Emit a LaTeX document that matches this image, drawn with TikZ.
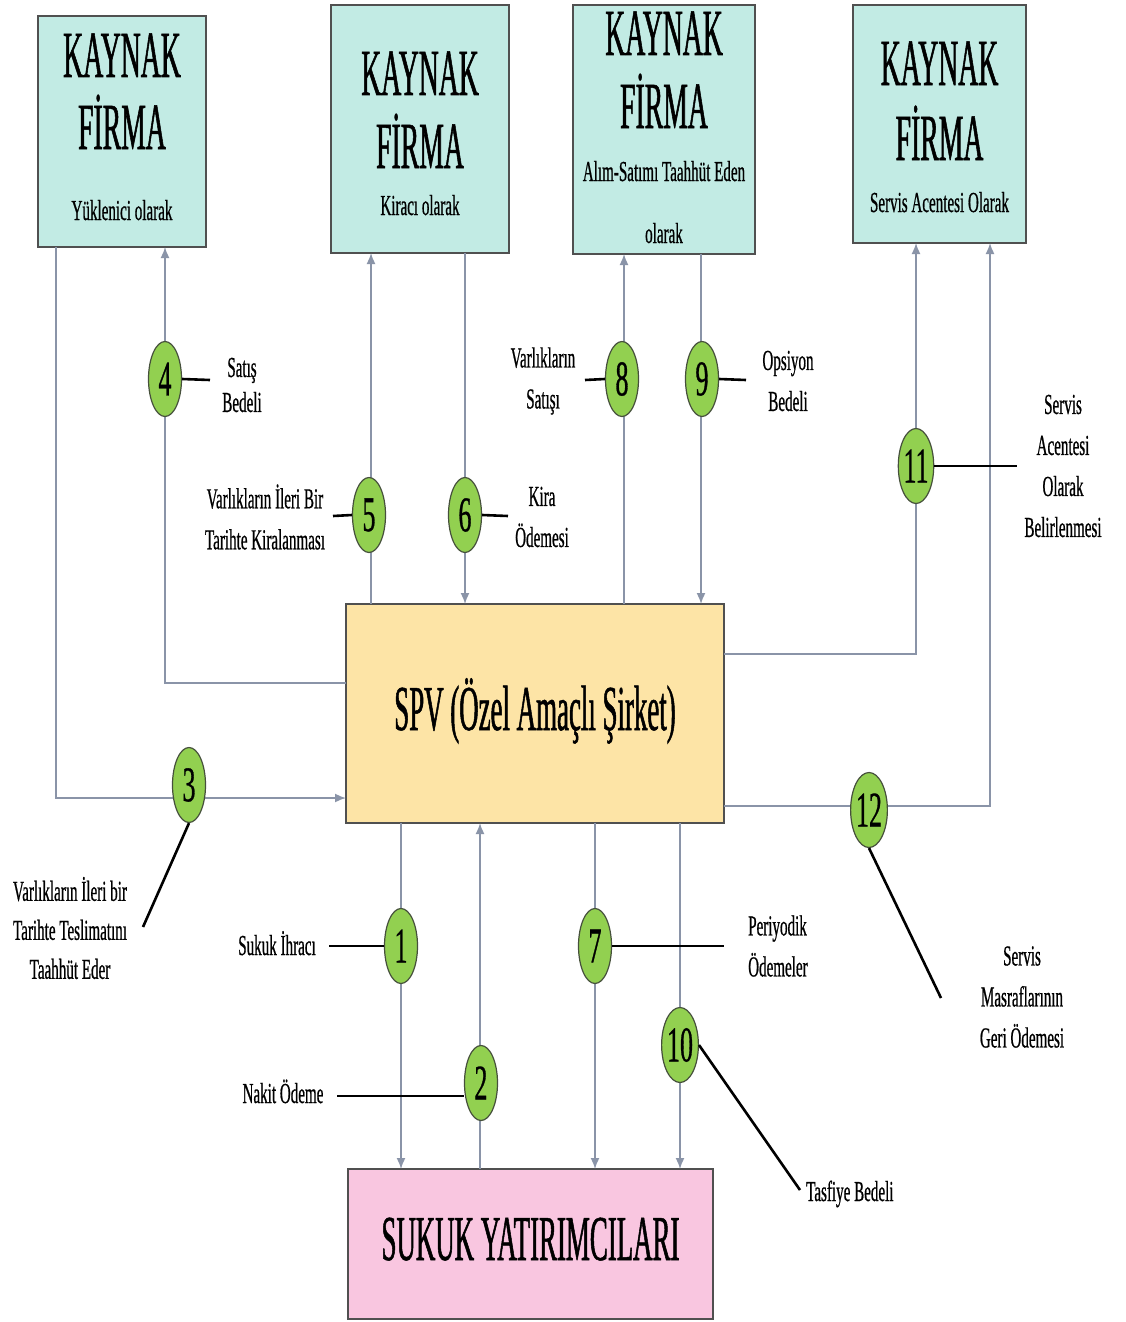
\documentclass[tikz,border=0pt]{standalone}
\usepackage{fontspec}
\setmainfont{Liberation Serif}
\newfontfamily\headfont{Liberation Serif}[FakeStretch=0.42,FakeBold=0.8]
\newfontfamily\notefont{Liberation Serif}[FakeStretch=0.52,FakeBold=0.6]
\usetikzlibrary{shapes.geometric,arrows.meta}

\definecolor{firmfill}{RGB}{194,235,228}
\definecolor{spvfill}{RGB}{253,228,166}
\definecolor{invfill}{RGB}{249,198,224}
\definecolor{badgefill}{RGB}{146,208,80}
\definecolor{badgeline}{RGB}{70,80,60}
\definecolor{boxline}{RGB}{80,80,80}
\definecolor{flowline}{RGB}{138,148,168}

\begin{document}
\begin{tikzpicture}[x=1pt,y=-1pt,
  box/.style={draw=boxline,line width=2.4pt,inner sep=0pt,outer sep=0pt},
  head/.style={font=\headfont\fontsize{66}{66}\selectfont,anchor=base,inner sep=0pt},
  big/.style={font=\headfont\fontsize{64}{64}\selectfont,anchor=base,inner sep=0pt},
  sub/.style={font=\notefont\fontsize{29}{29}\selectfont,anchor=base,inner sep=0pt},
  flow/.style={draw=flowline,line width=1.6pt,-{Latex[length=11pt,width=9pt]}},
  badge/.style={ellipse,draw=badgeline,line width=1.2pt,fill=badgefill,
    minimum width=33pt,minimum height=75pt,inner sep=0pt,
    font=\notefont\fontsize{50}{50}\selectfont},
  lead/.style={draw=black,line width=2.6pt},
  note/.style={font=\notefont\fontsize{29}{41}\selectfont,align=center,inner sep=0pt},
]
\fill[white] (0,0) rectangle (1125,1322);
\useasboundingbox (0,0) rectangle (1125,1322);

% --- source firm boxes ---
\node[box,fill=firmfill,minimum width=168pt,minimum height=231pt] (k1) at (122,131.5) {};
\node[box,fill=firmfill,minimum width=178pt,minimum height=248pt] (k2) at (420,129) {};
\node[box,fill=firmfill,minimum width=182pt,minimum height=249pt] (k3) at (664,129.5) {};
\node[box,fill=firmfill,minimum width=173pt,minimum height=238pt] (k4) at (939.5,124) {};

\node[head] (k1a) at (122,77) {KAYNAK};
\node[head] (k1b) at (122,149) {FİRMA};
\node[sub]  (k1c) at (122,220) {Yüklenici olarak};

\node[head] (k2a) at (420,95) {KAYNAK};
\node[head] (k2b) at (420,168) {FİRMA};
\node[sub]  (k2c) at (420,215) {Kiracı olarak};

\node[head] (k3a) at (664,55) {KAYNAK};
\node[head] (k3b) at (664,128) {FİRMA};
\node[sub]  (k3c) at (664,181) {Alım-Satımı Taahhüt Eden};
\node[sub]  (k3d) at (664,243) {olarak};

\node[head] (k4a) at (939.5,85) {KAYNAK};
\node[head] (k4b) at (939.5,160) {FİRMA};
\node[sub]  (k4c) at (939.5,212) {Servis Acentesi Olarak};

% --- SPV and investors ---
\node[box,fill=spvfill,minimum width=378pt,minimum height=219pt] (spv) at (535,713.5) {};
\node[big] (spvt) at (535,730) {SPV (Özel Amaçlı Şirket)};
\node[box,fill=invfill,minimum width=365pt,minimum height=150pt] (inv) at (530.5,1244) {};
\node[big] (invt) at (530.5,1260) {SUKUK YATIRIMCILARI};

% --- lanes used by the flows ---
\coordinate (l3) at (56,0);
\coordinate (r3) at (0,798);
\coordinate (l4) at (165,0);
\coordinate (r4) at (0,683);
\coordinate (l5) at (371,0);
\coordinate (l6) at (465,0);
\coordinate (l8) at (624,0);
\coordinate (l9) at (701,0);
\coordinate (l11) at (916,0);
\coordinate (r11) at (0,654);
\coordinate (l12) at (990,0);
\coordinate (r12) at (0,806);
\coordinate (d1) at (401,0);
\coordinate (d2) at (480,0);
\coordinate (d7) at (595,0);
\coordinate (d10) at (680,0);

% --- flows ---
\draw[flow] (k1.south -| l3) |- (spv.west |- r3);
\draw[flow] (spv.west |- r4) -| (k1.south -| l4);
\draw[flow] (spv.north -| l5) -- (k2.south -| l5);
\draw[flow] (k2.south -| l6) -- (spv.north -| l6);
\draw[flow] (spv.north -| l8) -- (k3.south -| l8);
\draw[flow] (k3.south -| l9) -- (spv.north -| l9);
\draw[flow] (spv.east |- r11) -| (k4.south -| l11);
\draw[flow] (spv.east |- r12) -| (k4.south -| l12);
\draw[flow] (spv.south -| d1) -- (inv.north -| d1);
\draw[flow] (inv.north -| d2) -- (spv.south -| d2);
\draw[flow] (spv.south -| d7) -- (inv.north -| d7);
\draw[flow] (spv.south -| d10) -- (inv.north -| d10);

% --- step badges ---
\node[badge] (b1) at (401,946) {1};
\node[badge] (b2) at (481,1083) {2};
\node[badge] (b3) at (189,785) {3};
\node[badge] (b4) at (165,379) {4};
\node[badge] (b5) at (369,515) {5};
\node[badge] (b6) at (465,515) {6};
\node[badge] (b7) at (595,946) {7};
\node[badge] (b8) at (622,379) {8};
\node[badge] (b9) at (702,379) {9};
\node[badge] (b10) at (680,1045) {10};
\node[badge] (b11) at (916,466) {11};
\node[badge] (b12) at (869,810) {12};

% --- step labels ---
\node[note] (n1) [anchor=base] at (277,955) {Sukuk İhracı};
\node[note] (n2) [anchor=base] at (283,1103) {Nakit Ödeme};
\node[note] (n3) at (70,928) {Varlıkların İleri bir\\[-2pt]Tarihte Teslimatını\\[-2pt]Taahhüt Eder};
\node[note] (n4) at (242,385) {Satış\\[-6pt]Bedeli};
\node[note] (n5) at (265,517) {Varlıkların İleri Bir\\Tarihte Kiralanması};
\node[note] (n6) at (542,517) {Kira\\Ödemesi};
\node[note,align=left] (n7) [anchor=west] at (748,946) {Periyodik\\Ödemeler};
\node[note] (n8) at (543,381) {Varlıkların\\Satışı};
\node[note] (n9) at (788,381) {Opsiyon\\Bedeli};
\node[note] (n10) [anchor=base west] at (806,1201) {Tasfiye Bedeli};
\node[note] (n11) at (1063,466) {Servis\\Acentesi\\Olarak\\Belirlenmesi};
\node[note] (n12) at (1022,997) {Servis\\Masraflarının\\Geri Ödemesi};

% --- leader lines from badges to labels ---
\coordinate (t1) at (329,946);
\coordinate (t2) at (337,1096);
\coordinate (t3) at (143,927);
\coordinate (t4) at (210,380);
\coordinate (t5) at (333,516);
\coordinate (t6) at (508,516);
\coordinate (t7) at (724,946);
\coordinate (t8) at (585,380);
\coordinate (t9) at (746,380);
\coordinate (t10) at (800,1190);
\coordinate (t11) at (1017,466);
\coordinate (t12) at (941,998);

\draw[lead] (t1) -- (b1.west);
\draw[lead] (t2) -- (t2 -| b2.west);
\draw[lead] (b3.south) -- (t3);
\draw[lead] (b4.east) -- (t4);
\draw[lead] (t5) -- (b5.west);
\draw[lead] (b6.east) -- (t6);
\draw[lead] (b7.east) -- (t7);
\draw[lead] (t8) -- (b8.west);
\draw[lead] (b9.east) -- (t9);
\draw[lead] (b10.east) -- (t10);
\draw[lead] (b11.east) -- (t11);
\draw[lead] (b12.south) -- (t12);
\end{tikzpicture}
\end{document}
